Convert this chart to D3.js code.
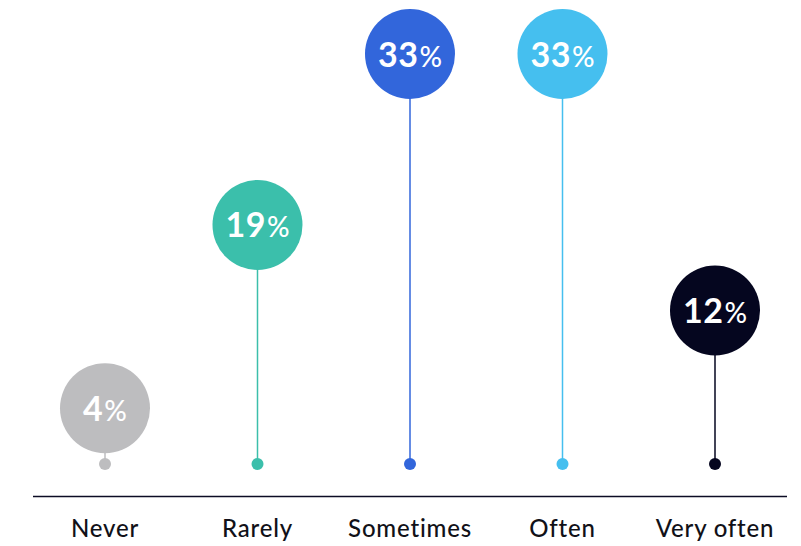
<!DOCTYPE html>
<html>
<head>
<meta charset="utf-8">
<script src="https://cdn.jsdelivr.net/npm/d3@7/dist/d3.min.js"></script>
<style>
  html, body { margin: 0; padding: 0; background: #fff; }
  svg { display: block; }
</style>
</head>
<body>
<svg id="chart" width="801" height="546"></svg>
<script>
// Survey answer frequencies (percent of respondents)
const categories = ["Never", "Rarely", "Sometimes", "Often", "Very often"];
const values = [4, 19, 33, 33, 12];
const colors = ["#bdbdbf", "#3bbfab", "#3266db", "#45bfef", "#05061f"];

const W = 801, H = 546;
const svg = d3.select("#chart");

const x = d3.scalePoint()
  .domain(categories)
  .range([105, 715]);

const y = d3.scaleLinear()
  .domain([0, 33])
  .range([457, 54]);

const baseY = 464;   // stem anchor dots
const axisY = 496.5; // horizontal rule
const R = 45;

// baseline rule
svg.append("line")
  .attr("x1", 33).attr("x2", 787)
  .attr("y1", axisY).attr("y2", axisY)
  .attr("stroke", "#0c0c24")
  .attr("stroke-width", 1.3);

const g = svg.append("g")
  .selectAll("g")
  .data(categories.map((c, i) => ({ c, v: values[i], col: colors[i] })))
  .join("g");

// stems
g.append("line")
  .attr("x1", d => x(d.c)).attr("x2", d => x(d.c))
  .attr("y1", baseY).attr("y2", d => y(d.v))
  .attr("stroke", d => d.col)
  .attr("stroke-width", 1.5);

// anchor dots
g.append("circle")
  .attr("cx", d => x(d.c)).attr("cy", baseY)
  .attr("r", 6)
  .attr("fill", d => d.col);

// value bubbles
g.append("circle")
  .attr("cx", d => x(d.c)).attr("cy", d => y(d.v))
  .attr("r", R)
  .attr("fill", d => d.col);

// value labels
const t = g.append("text")
  .attr("x", d => x(d.c))
  .attr("y", d => y(d.v) + 12.5)
  .attr("text-anchor", "middle")
  .attr("fill", "#fff")
  .style("font-family", "Lato, 'Noto Sans', sans-serif");
t.append("tspan")
  .style("font-size", "34px")
  .style("font-weight", "700")
  .style("letter-spacing", "0.5px")
  .text(d => d.v);
t.append("tspan")
  .style("font-size", "28px")
  .style("font-weight", "500")
  .attr("dx", 1)
  .text("%");

// category labels
svg.append("g")
  .selectAll("text")
  .data(categories)
  .join("text")
  .attr("x", d => x(d))
  .attr("y", 537)
  .attr("text-anchor", "middle")
  .attr("fill", "#111118")
  .style("font-family", "Lato, 'Noto Sans', sans-serif")
  .style("font-size", "24px")
  .style("font-weight", "500")
  .style("letter-spacing", "0.8px")
  .text(d => d);
</script>
</body>
</html>
